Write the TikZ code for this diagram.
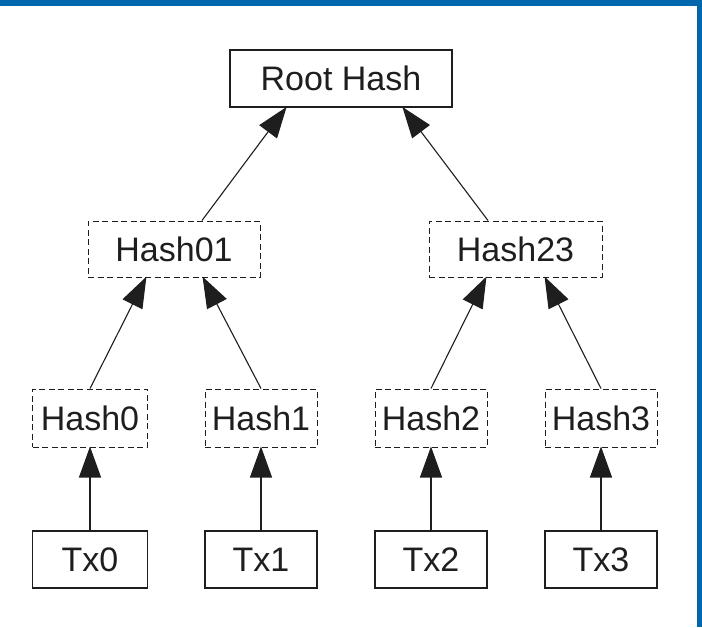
\documentclass[tikz,border=0pt]{standalone}
\usepackage{fontspec}
\setmainfont{Liberation Sans}
\usetikzlibrary{arrows.meta,positioning,calc}
\definecolor{frameblue}{RGB}{0,103,172}
\definecolor{inkgray}{RGB}{30,30,30}

\begin{document}
\begin{tikzpicture}[
    x=1pt, y=-1pt,
    every node/.style={font=\fontsize{34}{40}\selectfont, text=inkgray},
    txbox/.style={draw=inkgray, rectangle, line width=1.5pt, minimum width=115pt, minimum height=57pt, inner sep=0pt},
    hashbox/.style={draw=inkgray, rectangle, dash pattern=on 6pt off 3.5pt, line width=1pt, minimum width=115pt, minimum height=58pt, inner sep=0pt},
    arrow/.style={-{Triangle[length=31pt,width=22pt]}, line width=1.1pt, draw=inkgray, shorten >=-1pt}
]

    % Frame
    \fill[white] (0,0) rectangle (702,627);
    \useasboundingbox (0,0) rectangle (702,627);
    \fill[frameblue] (0,0) rectangle (702,6);
    \fill[frameblue] (697,0) rectangle (702,627);

    % 1. Root
    \node[txbox, minimum width=222pt] (root) at (341,78.5) {Root Hash};

    % 2. Intermediate hashes
    \node[hashbox, minimum width=172pt, minimum height=56pt] (hash01) at (174,249) {Hash01};
    \node[hashbox, minimum width=173pt, minimum height=56pt] (hash23) at (515.5,249) {Hash23};

    % 3. Leaf hashes
    \node[hashbox] (hash0) at (90,418) {Hash0};
    \node[hashbox, minimum width=112pt] (hash1) at (261,418) {Hash1};
    \node[hashbox, minimum width=112pt] (hash2) at (431,418) {Hash2};
    \node[hashbox, minimum width=112pt] (hash3) at (601,418) {Hash3};

    % 4. Transactions
    \node[txbox] (tx0) at (90,559.5) {Tx0};
    \node[txbox, minimum width=112pt] (tx1) at (261,559.5) {Tx1};
    \node[txbox, minimum width=112pt] (tx2) at (431,559.5) {Tx2};
    \node[txbox, minimum width=112pt] (tx3) at (601,559.5) {Tx3};

    % 5. Connections
    \draw[arrow] (tx0.north) -- (hash0.south);
    \draw[arrow] (tx1.north) -- (hash1.south);
    \draw[arrow] (tx2.north) -- (hash2.south);
    \draw[arrow] (tx3.north) -- (hash3.south);

    \draw[arrow] (hash0.north) -- ([xshift=-28pt]hash01.south);
    \draw[arrow] (hash1.north) -- ([xshift=29pt]hash01.south);
    \draw[arrow] (hash2.north) -- ([xshift=-29.5pt]hash23.south);
    \draw[arrow] (hash3.north) -- ([xshift=29.5pt]hash23.south);

    \draw[arrow] ([xshift=28pt]hash01.north) -- ([xshift=-55pt]root.south);
    \draw[arrow] ([xshift=-27.5pt]hash23.north) -- ([xshift=62pt]root.south);

\end{tikzpicture}
\end{document}
